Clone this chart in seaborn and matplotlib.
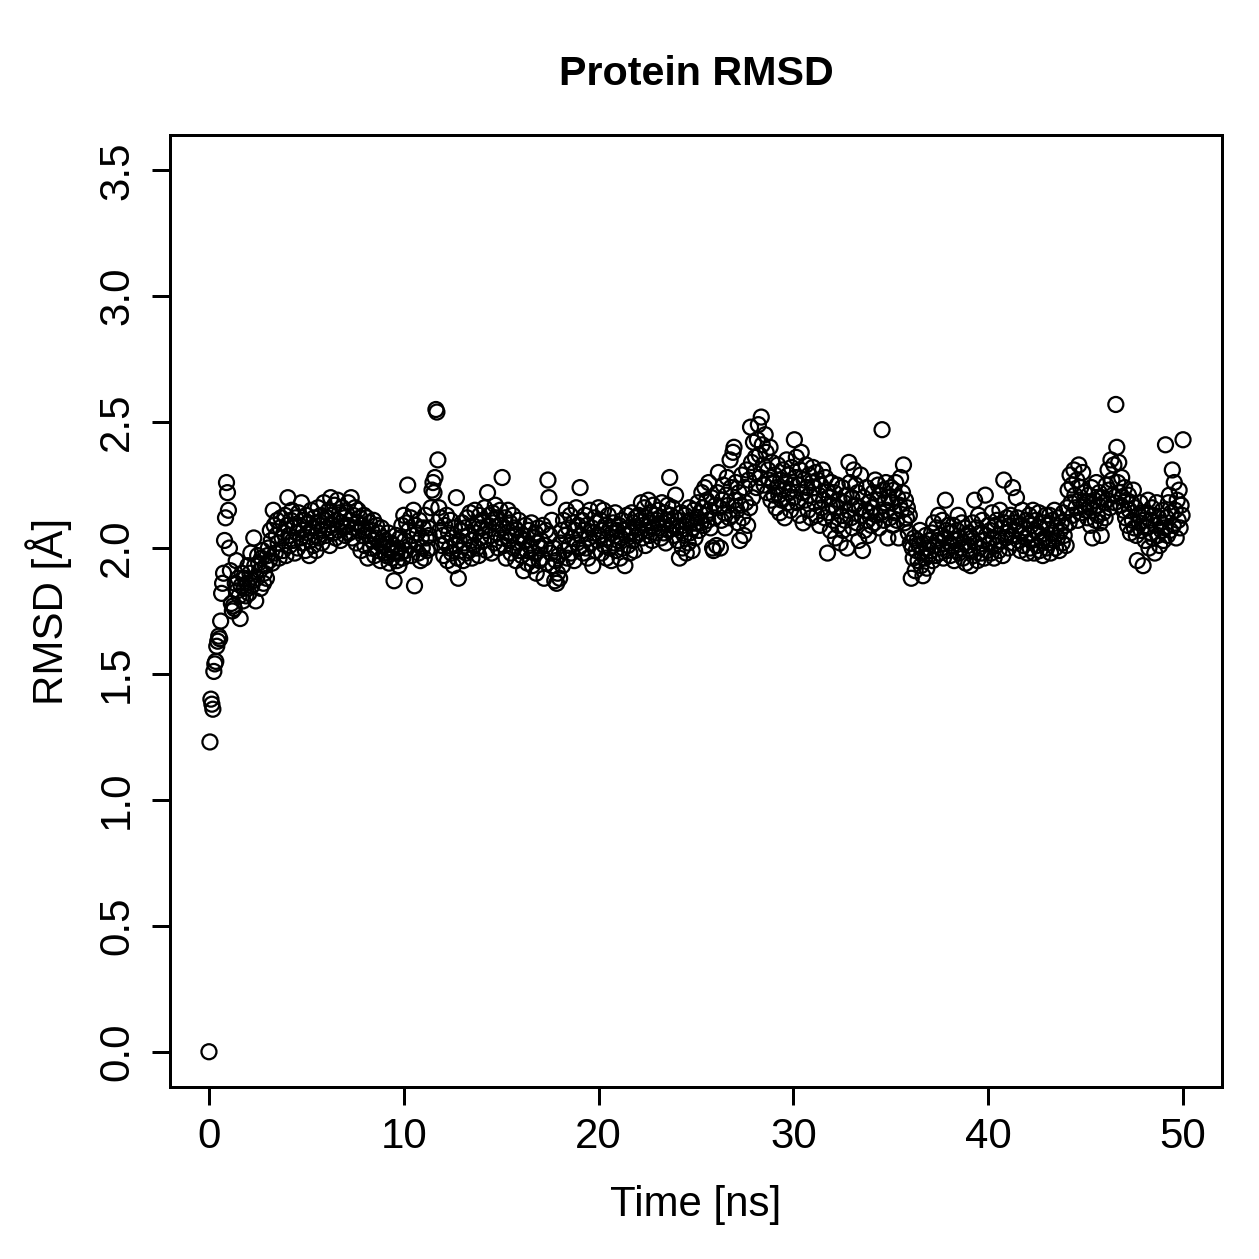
import numpy as np
import pandas as pd
import matplotlib
matplotlib.use("Agg")
import matplotlib.pyplot as plt
import seaborn as sns

# Time axis: 0 to 50 ns, 0.05 ns per frame (1001 frames)
time_start_ns = 0.0
time_step_ns = 0.05

# RMSD values in hundredths of Angstrom, one list per 10 ns (first value is t=0)
rmsd_00_10 = [0,
    123,140,138,136,151,154,155,161,163,165,164,171,182,186,190,203,212,226,222,215,
    200,191,178,175,177,176,186,195,183,188,181,172,185,190,179,184,188,181,186,193,
    182,190,198,185,187,204,193,179,188,197,194,191,184,196,199,186,190,193,188,197,
    200,195,207,203,194,215,209,198,205,211,202,196,208,212,204,199,206,213,197,209,
    220,205,201,211,215,203,208,198,212,206,200,214,209,204,218,202,207,211,199,213,
    206,210,197,203,215,208,201,212,205,199,210,216,204,209,213,202,207,218,211,205,
    212,208,215,201,220,209,213,206,217,204,211,219,207,214,203,210,216,208,212,205,
    214,209,218,206,211,220,204,213,208,216,202,210,215,207,212,199,209,205,213,201,
    208,212,196,205,210,200,207,203,211,197,204,209,199,206,202,195,208,201,204,198,
    203,197,200,206,194,199,202,196,201,187,198,205,195,200,193,204,198,209,196,213]
rmsd_10_20 = [
    203,199,210,225,207,201,212,197,205,215,185,209,202,206,198,211,195,204,200,208,
    196,213,204,199,208,205,200,216,223,226,222,228,255,254,235,216,207,212,201,205,
    197,209,202,213,195,206,200,211,198,204,193,208,201,220,196,188,203,199,207,210,
    195,202,208,198,212,205,199,214,203,196,209,201,215,206,200,210,197,213,204,208,
    211,203,216,207,199,222,209,213,205,198,214,210,202,217,206,212,200,209,215,204,
    228,208,201,212,196,206,215,203,210,198,205,213,200,208,195,207,202,211,199,204,
    197,205,191,203,209,199,194,207,201,196,210,193,204,198,206,190,202,208,195,200,
    203,196,209,188,201,207,194,227,220,205,198,211,193,200,187,195,186,190,197,188,
    202,207,193,211,199,205,215,196,208,201,213,198,204,210,195,207,216,202,209,200,
    224,205,211,198,207,213,200,209,196,204,215,202,208,193,206,212,199,210,203,216]
rmsd_20_30 = [
    205,211,198,207,215,201,209,196,204,213,200,208,195,206,210,202,214,199,207,203,
    209,196,204,211,200,207,193,205,213,201,208,198,206,214,203,210,199,212,205,208,
    213,206,211,218,204,209,216,201,212,207,219,205,214,210,203,217,208,213,206,211,
    215,208,212,204,218,210,206,214,202,211,217,207,228,213,209,216,205,212,221,208,
    203,211,196,207,214,200,209,205,213,198,210,202,216,206,211,199,208,215,204,210,
    212,218,207,214,210,222,216,209,224,213,219,211,226,215,208,220,200,199,212,217,
    201,222,230,216,200,211,219,225,214,208,221,228,217,212,235,224,213,238,240,219,
    226,215,210,222,203,217,229,212,205,224,218,231,209,227,216,248,234,220,242,230,
    236,224,243,249,237,228,252,241,233,225,245,238,222,231,227,240,219,234,226,221,
    229,216,224,233,221,214,227,219,231,223,212,226,235,218,229,222,215,232,225,220]
rmsd_30_40 = [
    243,228,236,218,225,213,231,238,222,210,227,219,233,224,215,229,221,212,226,232,
    224,218,230,213,227,221,209,225,216,231,219,212,228,223,198,214,220,207,226,217,
    211,222,204,216,225,209,219,202,213,224,207,218,211,221,200,215,234,226,212,220,
    208,231,217,225,210,222,203,216,229,213,199,220,207,215,224,211,205,218,214,209,
    216,222,210,227,213,219,225,208,221,214,247,223,211,218,226,215,204,220,212,224,
    218,209,223,214,226,211,220,204,217,228,215,222,233,210,219,212,216,206,213,202,
    188,200,196,204,191,199,203,195,201,207,193,198,189,202,196,205,192,200,197,203,
    199,206,195,210,201,197,208,203,213,198,205,200,211,196,204,219,207,199,209,202,
    197,206,201,209,195,203,199,207,213,198,204,200,210,196,202,208,194,205,201,206,
    199,193,204,210,197,219,202,208,195,213,200,206,198,211,203,196,221,205,199,209]
rmsd_40_50 = [
    202,207,198,214,204,196,209,201,211,205,199,215,203,208,197,227,210,204,212,206,
    200,209,213,205,224,202,210,207,220,212,203,209,199,206,215,201,208,204,211,198,
    205,213,200,209,203,215,198,207,211,201,206,214,199,208,203,197,210,204,213,200,
    209,202,213,198,206,211,203,215,200,208,204,212,199,207,210,202,214,205,209,201,
    216,223,210,229,218,225,213,231,221,216,227,211,233,219,224,214,230,217,222,215,
    218,212,221,216,209,224,204,215,219,211,226,213,217,222,210,205,220,214,218,212,
    225,219,231,223,216,235,227,221,233,218,257,240,226,234,222,217,228,220,215,224,
    212,219,209,221,215,206,218,211,223,208,216,205,195,213,210,218,207,214,193,211,
    203,214,208,219,200,211,206,216,204,213,198,209,218,205,212,201,210,207,215,203,
    208,241,212,205,218,221,207,214,231,209,226,215,204,219,211,223,208,217,213,243]

x_ticks = [0, 10, 20, 30, 40, 50]
y_ticks = [0.0, 0.5, 1.0, 1.5, 2.0, 2.5, 3.0, 3.5]
y_tick_labels = ["0.0", "0.5", "1.0", "1.5", "2.0", "2.5", "3.0", "3.5"]

rmsd_all = np.array(rmsd_00_10 + rmsd_10_20 + rmsd_20_30 + rmsd_30_40 + rmsd_40_50) / 100.0
time_ns = time_start_ns + time_step_ns * np.arange(len(rmsd_all))
df = pd.DataFrame({"Time": time_ns, "RMSD": rmsd_all})

sns.set_style("white")
plt.rcParams["font.family"] = ["Liberation Sans", "DejaVu Sans"]
plt.rcParams["text.color"] = "black"
plt.rcParams["axes.labelcolor"] = "black"

DPI = 180
fig = plt.figure(figsize=(1259 / DPI, 1259 / DPI), dpi=DPI)
ax = fig.add_axes([170 / 1259, 1 - 1087 / 1259, (1222 - 170) / 1259, (1087 - 135) / 1259])

sns.scatterplot(data=df, x="Time", y="RMSD", ax=ax, marker="o", s=36,
                color="black", edgecolor="black", linewidth=0.9, legend=False)
for coll in ax.collections:
    coll.set_facecolor("none")
    coll.set_edgecolor("black")

ax.set_xlim(-2, 52)
ax.set_ylim(-0.14, 3.64)
ax.set_xticks(x_ticks)
ax.set_xticklabels([str(v) for v in x_ticks])
ax.set_yticks(y_ticks)
ax.set_yticklabels(y_tick_labels, rotation=90, va="center")

for sp in ax.spines.values():
    sp.set_visible(True)
    sp.set_color("black")
    sp.set_linewidth(1.2)

ax.tick_params(axis="both", direction="out", length=7.2, width=1.2, color="black",
               labelsize=16.8, labelcolor="black", left=True, bottom=True)
ax.tick_params(axis="x", pad=5)
ax.tick_params(axis="y", pad=6)

ax.set_xlabel("Time [ns]", fontsize=16.8, labelpad=11, color="black")
ax.set_ylabel("RMSD [Å]", fontsize=16.8, labelpad=10, color="black")
ax.set_title("Protein RMSD", fontsize=16.5, fontweight="bold", pad=20, color="black")
ax.grid(False)

fig.savefig("out.png", dpi=DPI, facecolor="white")
